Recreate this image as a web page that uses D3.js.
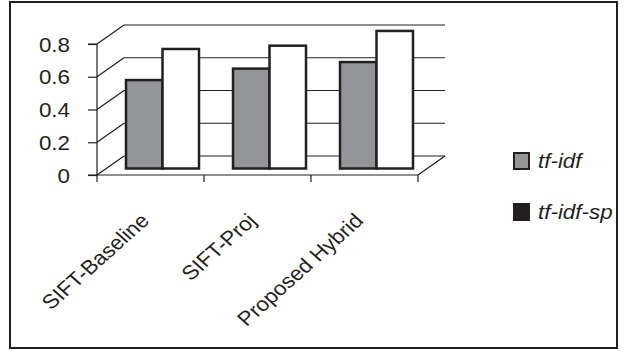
<!DOCTYPE html>
<html><head><meta charset="utf-8">
<script src="https://cdn.jsdelivr.net/npm/d3@7"></script>
<style>body{margin:0;background:#fff}svg{display:block}text{font-family:"Liberation Sans",Arial,sans-serif;fill:#231f20}</style>
</head><body>
<script>
const categories = ["SIFT-Baseline", "SIFT-Proj", "Proposed Hybrid"];
const seriesNames = ["tf-idf", "tf-idf-sp"];
const tfidf = [0.54, 0.61, 0.65];
const tfidfSp = [0.73, 0.75, 0.84];
const yTicks = [0, 0.2, 0.4, 0.6, 0.8];
const barFill = ["#939598", "#ffffff"];
const legendFill = ["#939598", "#231f20"];

const W = 626, H = 351, ink = "#231f20", sx = 1.12, fs = 20;
const svg = d3.select("body").append("svg").attr("width", W).attr("height", H);

svg.append("rect").attr("x", 10).attr("y", 2).attr("width", 607).attr("height", 346)
  .attr("fill", "#fff").attr("stroke", ink).attr("stroke-width", 2);

const x = d3.scaleBand().domain(categories).range([97, 418]);
const y = d3.scaleLinear().domain([0, 0.8]).range([175, 44]);
const depth = {dx: 27, dy: -19};
const barShift = {dx: 12, dy: -6.5};
const xs = d3.scaleBand().domain(seriesNames).range([0, 73]);

const g = svg.append("g");
const x0 = x.range()[0], x1 = x.range()[1];
g.selectAll("line.grid").data(yTicks).join("line").attr("class", "grid")
  .attr("x1", x0 + depth.dx).attr("x2", x1 + depth.dx)
  .attr("y1", d => y(d) + depth.dy).attr("y2", d => y(d) + depth.dy)
  .attr("stroke", ink).attr("stroke-width", 1.2);
g.selectAll("line.side").data(yTicks).join("line").attr("class", "side")
  .attr("x1", x0).attr("x2", x0 + depth.dx)
  .attr("y1", d => y(d)).attr("y2", d => y(d) + depth.dy)
  .attr("stroke", ink).attr("stroke-width", 1.2);
g.append("line").attr("x1", x1).attr("y1", y(0)).attr("x2", x1 + depth.dx).attr("y2", y(0) + depth.dy)
  .attr("stroke", ink).attr("stroke-width", 1.2);

const data = categories.map((c, i) => ({c, vals: [tfidf[i], tfidfSp[i]]}));
const groupW = xs.range()[1];
const bars = g.selectAll("g.cat").data(data).join("g").attr("class", "cat")
  .attr("transform", d => `translate(${x(d.c) + x.bandwidth() / 2 - groupW / 2 + barShift.dx},${barShift.dy})`);
bars.selectAll("rect").data(d => d.vals.map((v, k) => ({v, s: seriesNames[k], k}))).join("rect")
  .attr("x", d => xs(d.s)).attr("width", xs.bandwidth())
  .attr("y", d => y(d.v)).attr("height", d => y(0) - y(d.v))
  .attr("fill", d => barFill[d.k]).attr("stroke", ink).attr("stroke-width", 2.5);

const yAxis = d3.axisLeft(y).tickValues(yTicks).tickSize(9).tickPadding(18)
  .tickFormat(d => d === 0 ? "0" : d3.format(".1f")(d));
const ya = svg.append("g").attr("transform", `translate(${x0},0)`).call(yAxis);
ya.select(".domain").attr("stroke", ink).attr("stroke-width", 1.2).attr("d", `M-9,${y(0.8)}H0V${y(0)}H-9`);
ya.selectAll(".tick line").attr("stroke", ink).attr("stroke-width", 1.2);
ya.selectAll(".tick text").attr("font-size", fs).attr("fill", ink).attr("dy", "0.35em")
  .attr("x", 0).attr("transform", `translate(-27,0) scale(${sx},1)`);

const xAxis = d3.axisBottom(x).tickSize(0).tickFormat("");
const xa = svg.append("g").attr("transform", `translate(0,${y(0)})`).call(xAxis);
xa.select(".domain").attr("stroke", ink).attr("stroke-width", 1.2).attr("d", `M${x0},0H${x1}`);
const bounds = [x0, ...categories.map(c => x(c) + x.bandwidth())];
xa.selectAll("line.bt").data(bounds).join("line").attr("class", "bt")
  .attr("x1", d => d).attr("x2", d => d).attr("y1", 0).attr("y2", 7).attr("stroke", ink).attr("stroke-width", 1.2);
xa.selectAll("text.cl").data(categories).join("text").attr("class", "cl")
  .attr("text-anchor", "end").attr("font-size", fs)
  .attr("transform", d => `translate(${x(d) + x.bandwidth() / 2},${47}) scale(${sx},1) rotate(-45)`)
  .text(d => d);

const leg = svg.append("g");
const ly = [153, 204];
seriesNames.forEach((s, i) => {
  leg.append("rect").attr("x", 514).attr("y", ly[i]).attr("width", 15).attr("height", 16)
    .attr("fill", legendFill[i]).attr("stroke", ink).attr("stroke-width", 2);
  leg.append("text").attr("transform", `translate(538,${ly[i] + 15}) scale(${sx},1)`)
    .attr("font-size", fs).attr("font-style", "italic").text(s);
});
</script>
</body></html>
